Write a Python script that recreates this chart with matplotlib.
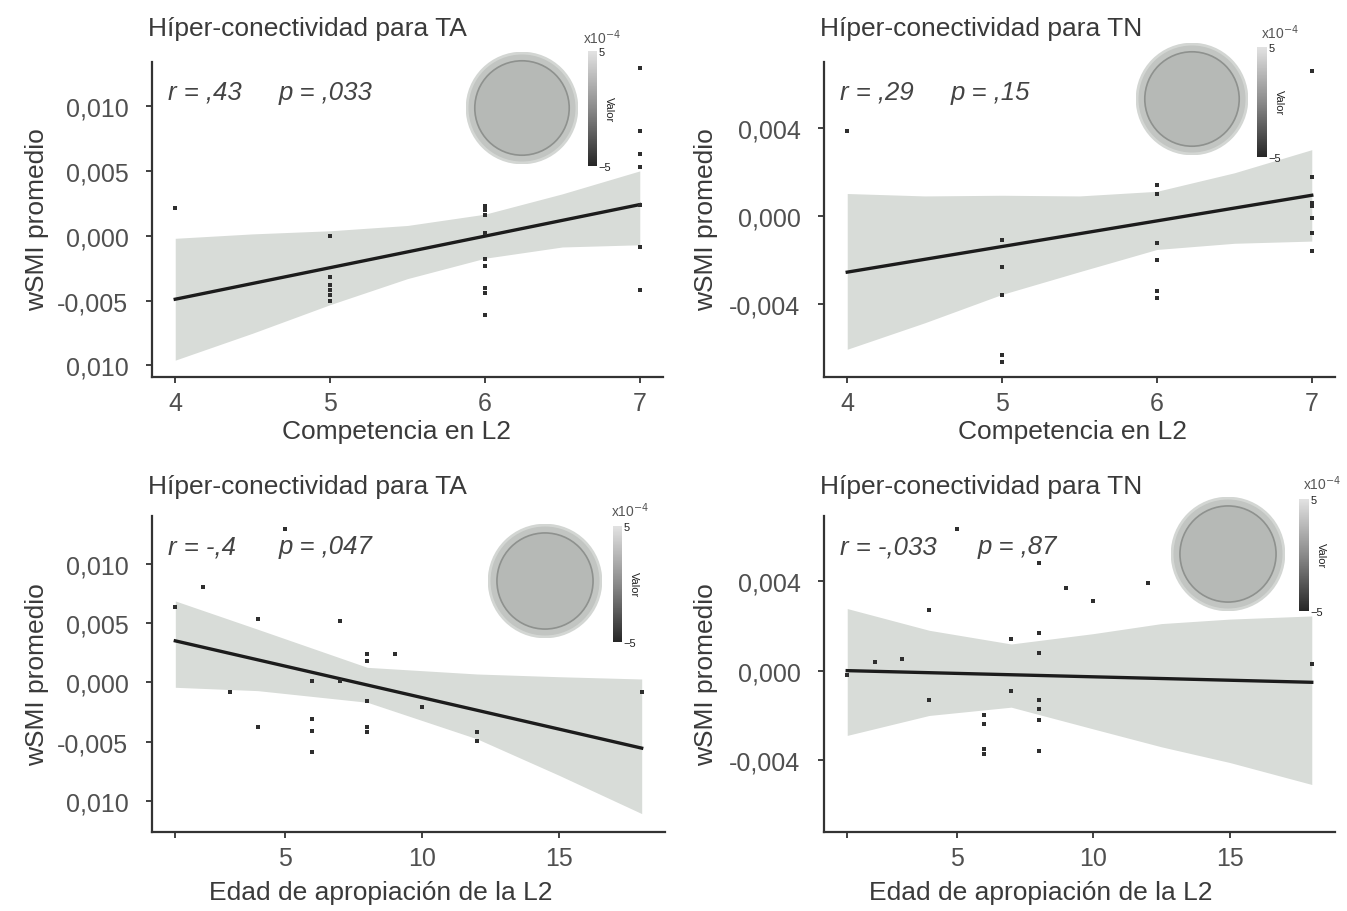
import numpy as np
import matplotlib
matplotlib.use("Agg")
from matplotlib import pyplot as plt
from matplotlib.patches import Circle
from matplotlib.colors import LinearSegmentedColormap, Normalize
from matplotlib.cm import ScalarMappable

W, H = 1347, 912

# --- datos ---
comp_TA_x = [4, 5, 5, 5, 5, 5, 5, 6, 6, 6, 6, 6, 6, 6, 6, 6, 7, 7, 7, 7, 7, 7, 7]
comp_TA_y = [0.0021, 0.0000, -0.0032, -0.0038, -0.0042, -0.0046, -0.0050,
             0.0023, 0.0020, 0.0016, 0.0002, -0.0018, -0.0023, -0.0040, -0.0044, -0.0061,
             0.0129, 0.0081, 0.0063, 0.0053, 0.0024, -0.0009, -0.0042]

comp_TN_x = [4, 5, 5, 5, 5, 5, 6, 6, 6, 6, 6, 6, 7, 7, 7, 7, 7, 7, 7]
comp_TN_y = [0.00385, -0.0011, -0.0023, -0.0036, -0.0063, -0.0066,
             0.0014, 0.0010, -0.0012, -0.0020, -0.0034, -0.0037,
             0.0066, 0.0018, 0.0006, 0.00045, -0.0001, -0.00075, -0.0016]

edad_TA_x = [1, 2, 3, 4, 4, 5, 6, 6, 6, 6, 7, 7, 8, 8, 8, 8, 8, 9, 10, 12, 12, 18]
edad_TA_y = [0.0063, 0.0080, -0.0008, 0.0053, -0.0038, 0.0129, 0.0001, -0.0031, -0.0041,
             -0.0059, 0.0052, 0.0001, 0.0024, 0.0018, -0.0016, -0.0038, -0.0042, 0.0024,
             -0.0021, -0.0042, -0.0049, -0.0008]

edad_TN_x = [1, 2, 3, 4, 4, 5, 6, 6, 6, 6, 7, 7, 8, 8, 8, 8, 8, 8, 8, 9, 10, 12, 18]
edad_TN_y = [-0.0002, 0.0004, 0.0005, 0.0027, -0.0013, 0.0063, -0.0020, -0.0024, -0.0035,
             -0.0037, 0.0014, -0.0009, 0.0048, 0.0017, 0.0008, -0.0013, -0.0017, -0.0022,
             -0.0036, 0.0037, 0.0031, 0.0039, 0.0003]

# recta ajustada y banda de confianza
comp_fit_x = [4, 7]
comp_TA_fit = [-0.0049, 0.0024]
comp_TN_fit = [-0.00254, 0.00095]
comp_band_x = [4, 4.5, 5, 5.5, 6, 6.5, 7]
comp_TA_hi = [-0.0002, 0.00014, 0.00038, 0.00079, 0.00166, 0.00323, 0.0050]
comp_TA_lo = [-0.0096, -0.00752, -0.00532, -0.00331, -0.00174, -0.00087, -0.0007]
comp_TN_hi = [0.00103, 0.00092, 0.00095, 0.00092, 0.00113, 0.00197, 0.00302]
comp_TN_lo = [-0.00604, -0.00484, -0.00355, -0.00252, -0.00151, -0.00123, -0.00113]

edad_fit_x = [1, 18]
edad_TA_fit = [0.00349, -0.00554]
edad_TN_fit = [0.0000, -0.00052]
edad_TA_band_x = [1, 4, 8, 12, 15, 18]
edad_TA_hi = [0.00685, 0.00447, 0.00126, 0.0007, 0.00047, 0.00028]
edad_TA_lo = [-0.00042, -0.0007, -0.00168, -0.00476, -0.00784, -0.01105]
edad_TN_band_x = [1, 4, 7, 10, 12.5, 15, 18]
edad_TN_hi = [0.00277, 0.0018, 0.00119, 0.00165, 0.0021, 0.0023, 0.00244]
edad_TN_lo = [-0.00289, -0.0020, -0.00163, -0.0026, -0.0034, -0.0041, -0.00508]

titles = ["Híper-conectividad para TA", "Híper-conectividad para TN"]
xlabels = ["Competencia en L2", "Edad de apropiación de la L2"]
ylabel = "wSMI promedio"
stats = [("r = ,43", "p = ,033"), ("r = ,29", "p = ,15"),
         ("r = -,4", "p = ,047"), ("r = -,033", "p = ,87")]

yticks_TA = [0.010, 0.005, 0.000, -0.005, -0.010]
yticklabels_TA = ["0,010", "0,005", "0,000", "-0,005", "0,010"]
yticks_TN = [0.004, 0.000, -0.004]
yticklabels_TN = ["0,004", "0,000", "-0,004"]
xticks_comp = [4, 5, 6, 7]
xticklabels_comp = ["4", "5", "6", "7"]
xticks_edad = [1, 5, 10, 15]
xticklabels_edad = ["", "5", "10", "15"]

BAND = "#d8dcd8"
LINE = "#1c1c1c"
PT = "#2e2e2e"
AXC = "#333333"
TXT = "#3a3a3a"

plt.rcParams['font.family'] = ['Liberation Sans', 'DejaVu Sans']

fig = plt.figure(figsize=(W / 100, H / 100), dpi=100)


def px_box(x, y, w, h):
    return [x / W, 1 - (y + h) / H, w / W, h / H]


def draw_panel(box, x, y, fit_x, fit_y, band_x, lo, hi, xlim, ylim,
               xticks, xtl, yticks, ytl, st, p_dx):
    ax = fig.add_axes(px_box(*box))
    ax.fill_between(band_x, lo, hi, color=BAND, lw=0, zorder=1)
    ax.plot(fit_x, fit_y, color=LINE, lw=2.4, zorder=3)
    ax.scatter(x, y, s=11, marker='s', color=PT, lw=0, zorder=4)
    ax.set_xlim(*xlim)
    ax.set_ylim(*ylim)
    ax.set_xticks(xticks)
    ax.set_xticklabels(xtl)
    ax.set_yticks(yticks)
    ax.set_yticklabels(ytl)
    for side in ("top", "right"):
        ax.spines[side].set_visible(False)
    for side in ("left", "bottom"):
        ax.spines[side].set_color(AXC)
        ax.spines[side].set_linewidth(1.6)
    ax.tick_params(axis='both', colors=AXC, length=4, width=1.3, labelsize=18,
                   labelcolor="#505050")
    ax.tick_params(axis='y', pad=13)
    ax.tick_params(axis='x', pad=6)
    ax.text(0.032, 0.905, st[0], transform=ax.transAxes, fontsize=18.5,
            style='italic', color="#444444", va='center', ha='left')
    ax.text(0.032 + p_dx, 0.905, st[1], transform=ax.transAxes, fontsize=18.5,
            style='italic', color="#444444", va='center', ha='left')
    return ax


gray_cmap = LinearSegmentedColormap.from_list("topo", ["#262626", "#8a8a8a", "#e2e2e2"])


def draw_topo(cx, cy, r, cbar_box, lab_xy):
    axc = fig.add_axes(px_box(cx - r, cy - r, 2 * r, 2 * r))
    axc.set_xlim(-1.02, 1.02)
    axc.set_ylim(-1.02, 1.02)
    axc.set_aspect('equal')
    axc.axis('off')
    axc.add_patch(Circle((0, 0), 1.0, fc='#c2c5c2', ec='#d3d6d3', lw=2))
    axc.add_patch(Circle((0, 0), 0.86, fc='#b6b9b6', ec='#8e918e', lw=1.2))
    cax = fig.add_axes(px_box(*cbar_box))
    cb = fig.colorbar(ScalarMappable(norm=Normalize(-5, 5), cmap=gray_cmap), cax=cax,
                      ticks=[-5, 5])
    cb.outline.set_visible(False)
    cb.ax.tick_params(length=0, labelsize=8, pad=1, labelcolor="#222222")
    cb.set_label("Valor", fontsize=8, rotation=270, labelpad=2, color="#222222")
    fig.text(lab_xy[0] / W, 1 - lab_xy[1] / H, "x10$^{-4}$", fontsize=10,
             color="#555555", ha='center', va='center')


xlim_comp = (3.85, 7.15)
xlim_edad = (0.15, 18.85)

draw_panel((152, 63, 511, 315), comp_TA_x, comp_TA_y, comp_fit_x, comp_TA_fit,
           comp_band_x, comp_TA_lo, comp_TA_hi, xlim_comp, (-0.0109, 0.0134),
           xticks_comp, xticklabels_comp, yticks_TA, yticklabels_TA, stats[0], 0.215)
draw_panel((824, 63, 511, 315), comp_TN_x, comp_TN_y, comp_fit_x, comp_TN_fit,
           comp_band_x, comp_TN_lo, comp_TN_hi, xlim_comp, (-0.0073, 0.0070),
           xticks_comp, xticklabels_comp, yticks_TN, yticklabels_TN, stats[1], 0.215)
draw_panel((152, 517, 513, 316), edad_TA_x, edad_TA_y, edad_fit_x, edad_TA_fit,
           edad_TA_band_x, edad_TA_lo, edad_TA_hi, xlim_edad, (-0.0126, 0.0140),
           xticks_edad, xticklabels_edad, yticks_TA, yticklabels_TA, stats[2], 0.215)
draw_panel((824, 517, 511, 316), edad_TN_x, edad_TN_y, edad_fit_x, edad_TN_fit,
           edad_TN_band_x, edad_TN_lo, edad_TN_hi, xlim_edad, (-0.0072, 0.0069),
           xticks_edad, xticklabels_edad, yticks_TN, yticklabels_TN, stats[3], 0.268)

draw_topo(522, 109, 56, (588, 52, 9, 115), (602, 38))
draw_topo(1192, 100, 56, (1257, 48, 10, 110), (1280, 33))
draw_topo(545, 582, 57, (613, 527, 9, 116), (630, 511))
draw_topo(1228, 555, 57, (1299, 500, 10, 112), (1322, 484))

# titulos y etiquetas en coordenadas de pixel
for tx, ty, s in [(148, 29, titles[0]), (820, 29, titles[1]),
                  (148, 487, titles[0]), (820, 487, titles[1])]:
    fig.text(tx / W, 1 - ty / H, s, fontsize=19, color=TXT, ha='left', va='center')

for lx, ly in [(37, 220), (706, 220), (37, 675), (706, 675)]:
    fig.text(lx / W, 1 - ly / H, ylabel, fontsize=19, color=TXT, rotation=90,
             ha='center', va='center')

for lx, ly, s in [(396, 432, xlabels[0]), (1073, 432, xlabels[0]),
                  (381, 893, xlabels[1]), (1041, 893, xlabels[1])]:
    fig.text(lx / W, 1 - ly / H, s, fontsize=19, color=TXT, ha='center', va='center')

fig.savefig("out.png", dpi=100)
